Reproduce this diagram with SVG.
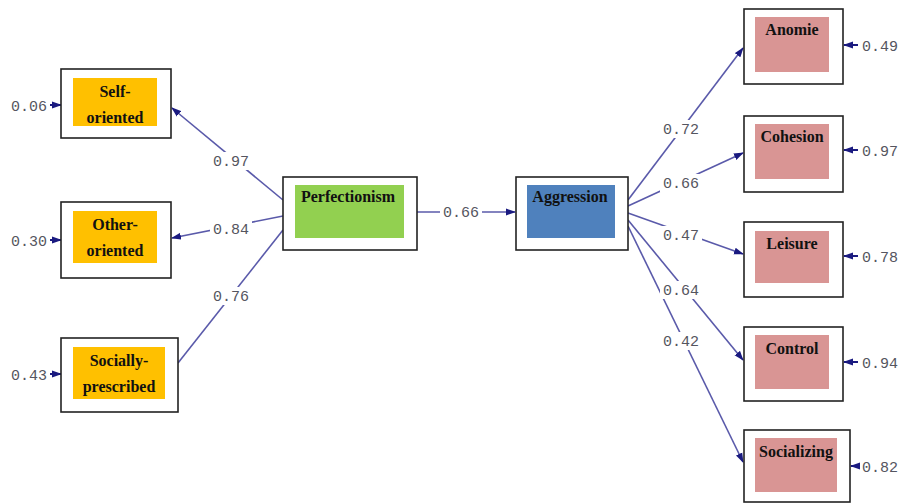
<svg xmlns="http://www.w3.org/2000/svg" width="901" height="504" viewBox="0 0 901 504">
<defs>
<marker id="ah" markerWidth="10" markerHeight="8" refX="9" refY="4" orient="auto" markerUnits="userSpaceOnUse">
<path d="M0,0.5 L10,4 L0,7.5 Z" fill="#1a1a80"/>
</marker>
<style>
.outer{fill:#fff;stroke:#222;stroke-width:1.6}
.ind{fill:#ffc000}
.lat1{fill:#92d050}
.lat2{fill:#4f81bd}
.dep{fill:#d99594}
.nt{font-family:"Liberation Serif","Times New Roman",serif;font-weight:bold;font-size:16px;fill:#111;text-anchor:middle}
.lab{font-family:"Liberation Mono","Courier New",monospace;font-size:15px;fill:#555560;text-anchor:middle}
.bg{fill:#fff}
.err{font-family:"Liberation Mono","Courier New",monospace;font-size:15px;fill:#555560}
.ln{stroke:#5a5aaa;stroke-width:1.6;fill:none}
.eln{stroke:#1a1a80;stroke-width:2;fill:none}
</style>
</defs>
<rect width="901" height="504" fill="#fff"/>
<g id="connectors">
<line class="ln" x1="283" y1="200" x2="172" y2="108" marker-end="url(#ah)"/>
<line class="ln" x1="283" y1="216" x2="172" y2="238" marker-end="url(#ah)"/>
<line class="ln" x1="283" y1="230" x2="178" y2="363"/>
<line class="ln" x1="417" y1="212" x2="515" y2="212" marker-end="url(#ah)"/>
<line class="ln" x1="628" y1="200" x2="743" y2="48" marker-end="url(#ah)"/>
<line class="ln" x1="628" y1="206" x2="743" y2="153" marker-end="url(#ah)"/>
<line class="ln" x1="628" y1="213" x2="743" y2="254" marker-end="url(#ah)"/>
<line class="ln" x1="628" y1="220" x2="743" y2="360" marker-end="url(#ah)"/>
<line class="ln" x1="628" y1="226" x2="743" y2="462" marker-end="url(#ah)"/>
<line class="eln" x1="50" y1="105" x2="61" y2="105" marker-end="url(#ah)"/>
<line class="eln" x1="50" y1="240" x2="61" y2="240" marker-end="url(#ah)"/>
<line class="eln" x1="50" y1="374" x2="61" y2="374" marker-end="url(#ah)"/>
<line class="eln" x1="858" y1="45" x2="844" y2="45" marker-end="url(#ah)"/>
<line class="eln" x1="858" y1="150" x2="844" y2="150" marker-end="url(#ah)"/>
<line class="eln" x1="858" y1="256" x2="844" y2="256" marker-end="url(#ah)"/>
<line class="eln" x1="858" y1="362" x2="844" y2="362" marker-end="url(#ah)"/>
<line class="eln" x1="858" y1="466" x2="851" y2="466" marker-end="url(#ah)"/>
<rect class="bg" x="210" y="152" width="42" height="18"/>
<rect class="bg" x="210" y="220" width="42" height="18"/>
<rect class="bg" x="210" y="287" width="42" height="18"/>
<rect class="bg" x="440" y="203" width="42" height="18"/>
<rect class="bg" x="660" y="120" width="42" height="18"/>
<rect class="bg" x="660" y="174" width="42" height="18"/>
<rect class="bg" x="660" y="226" width="42" height="18"/>
<rect class="bg" x="660" y="281" width="42" height="18"/>
<rect class="bg" x="660" y="332" width="42" height="18"/>
<text class="lab" x="231" y="166">0.97</text>
<text class="lab" x="231" y="234">0.84</text>
<text class="lab" x="231" y="301">0.76</text>
<text class="lab" x="461" y="217">0.66</text>
<text class="lab" x="681" y="134">0.72</text>
<text class="lab" x="681" y="188">0.66</text>
<text class="lab" x="681" y="240">0.47</text>
<text class="lab" x="681" y="295">0.64</text>
<text class="lab" x="681" y="346">0.42</text>
<text class="err" x="11" y="111">0.06</text>
<text class="err" x="11" y="246">0.30</text>
<text class="err" x="11" y="380">0.43</text>
<text class="err" x="862" y="51">0.49</text>
<text class="err" x="862" y="156">0.97</text>
<text class="err" x="862" y="262">0.78</text>
<text class="err" x="862" y="368">0.94</text>
<text class="err" x="862" y="472">0.82</text>
</g>
<g id="self-oriented">
<rect class="outer" x="61" y="69" width="110" height="69"/>
<rect class="ind" x="73" y="78" width="84" height="48"/>
<text class="nt" x="115" y="97">Self-</text>
<text class="nt" x="115" y="123">oriented</text>
</g>
<g id="other-oriented">
<rect class="outer" x="61" y="202" width="110" height="76"/>
<rect class="ind" x="73" y="211" width="84" height="52"/>
<text class="nt" x="115" y="230">Other-</text>
<text class="nt" x="115" y="256">oriented</text>
</g>
<g id="socially-prescribed">
<rect class="outer" x="61" y="338" width="117" height="74"/>
<rect class="ind" x="73" y="347" width="92" height="52"/>
<text class="nt" x="119" y="366">Socially-</text>
<text class="nt" x="119" y="392">prescribed</text>
</g>
<g id="perfectionism">
<rect class="outer" x="283" y="177" width="134" height="73"/>
<rect class="lat1" x="295" y="185" width="109" height="53"/>
<text class="nt" x="348" y="202">Perfectionism</text>
</g>
<g id="aggression">
<rect class="outer" x="516" y="177" width="112" height="73"/>
<rect class="lat2" x="527" y="185" width="88" height="53"/>
<text class="nt" x="570" y="202">Aggression</text>
</g>
<g id="anomie">
<rect class="outer" x="744" y="9" width="99" height="75"/>
<rect class="dep" x="755" y="17" width="74" height="55"/>
<text class="nt" x="792" y="35">Anomie</text>
</g>
<g id="cohesion">
<rect class="outer" x="744" y="116" width="99" height="76"/>
<rect class="dep" x="755" y="124" width="74" height="55"/>
<text class="nt" x="792" y="142">Cohesion</text>
</g>
<g id="leisure">
<rect class="outer" x="744" y="222" width="99" height="75"/>
<rect class="dep" x="755" y="231" width="74" height="52"/>
<text class="nt" x="792" y="249">Leisure</text>
</g>
<g id="control">
<rect class="outer" x="744" y="327" width="99" height="74"/>
<rect class="dep" x="755" y="335" width="74" height="54"/>
<text class="nt" x="792" y="354">Control</text>
</g>
<g id="socializing">
<rect class="outer" x="744" y="430" width="106" height="72"/>
<rect class="dep" x="755" y="438" width="82" height="54"/>
<text class="nt" x="796" y="457">Socializing</text>
</g>
</svg>
